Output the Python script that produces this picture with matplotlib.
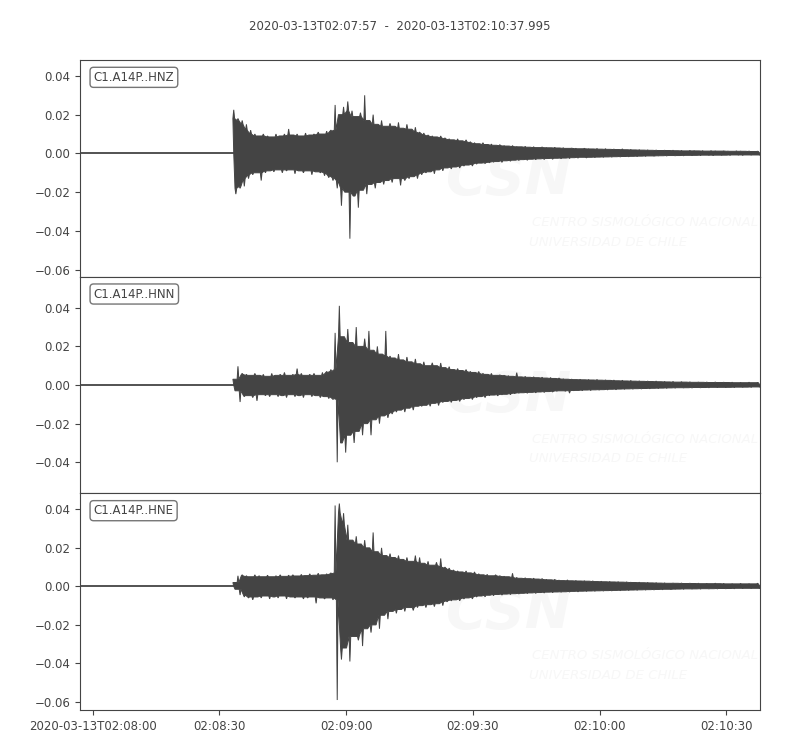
import numpy as np
import matplotlib
matplotlib.use("Agg")
from matplotlib import pyplot as plt

# trace start / end and P onset (seconds after start)
start = np.datetime64("2020-03-13T02:07:57.000")
end = np.datetime64("2020-03-13T02:10:37.995")
onset = 36.4

channels = ["C1.A14P..HNZ", "C1.A14P..HNN", "C1.A14P..HNE"]

# per-second max / min of each trace after the onset (x 1e-3)
hnz_up = [22.5, 18, 17, 15, 12, 10, 9, 10, 9, 8.5,
          10, 9, 10, 12.6, 9.5, 10, 9, 10.5, 9.5, 10,
          11, 10, 11.5, 12, 25, 20, 24, 26.8, 22, 19,
          21, 30, 17, 20, 15, 17, 14, 15.5, 14, 16,
          13, 15, 12.5, 13.5, 11, 10.5, 9.5, 9, 8.5, 9,
          8, 7.5, 7, 7.5, 6.5, 7, 6, 5.5, 5, 5.5,
          4.6, 4.8, 4.2, 4.5, 4, 3.8, 4, 3.5, 3.4, 3.6,
          3.2, 3.4, 3, 3.3, 3, 2.9, 3.1, 2.8, 2.9, 2.6,
          2.7, 2.6, 2.4, 2.6, 2.4, 2.3, 2.5, 2.2, 2.4, 2.1,
          2.2, 2, 2.3, 1.9, 2, 1.8, 1.9, 1.7, 1.8, 1.6,
          1.7, 1.5, 1.6, 1.5, 1.6, 1.4, 1.5, 1.3, 1.5, 1.4,
          1.3, 1.4, 1.2, 1.4, 1.3, 1.2, 1.3, 1.2, 1.1, 1.3,
          1.2, 1.1, 1.2, 1.0, 1.1]
hnz_dn = [-21, -18, -17, -13, -11, -10, -14, -10, -9, -9.5,
          -8.5, -10, -9, -8.5, -10.5, -9, -10, -9, -11, -9.5,
          -10, -11.5, -12.5, -14, -18, -27, -20, -44, -22, -28,
          -19, -21, -16, -18, -15, -16, -14, -15, -13, -16.5,
          -14, -13, -12, -13, -11, -10, -9.5, -10.5, -8.5, -9,
          -7.5, -8, -7, -7.5, -6.5, -6, -6.5, -5.5, -5, -5.2,
          -4.8, -4.5, -4.2, -4.6, -3.8, -4, -3.5, -3.6, -3.2, -3.5,
          -3, -3.2, -2.8, -3.1, -2.6, -3, -2.5, -2.7, -2.4, -2.6,
          -2.2, -2.4, -2, -2.3, -2, -2.1, -1.9, -2, -1.8, -1.9,
          -1.7, -1.8, -1.6, -1.7, -1.5, -1.6, -1.4, -1.5, -1.3, -1.4,
          -1.3, -1.2, -1.3, -1.1, -1.2, -1.1, -1.2, -1, -1.1, -1,
          -1.1, -0.9, -1, -1.1, -0.9, -1, -0.9, -1, -0.8, -0.9,
          -1, -0.8, -0.9, -0.8, -0.9]

hnn_up = [3, 9.7, 6, 5.5, 5, 6, 5, 5.5, 4.5, 6,
          5, 5.5, 6.5, 5, 5.5, 8.5, 6, 5, 5.5, 6,
          5, 6.5, 7, 8, 27, 41, 25, 29, 22, 30,
          20, 24, 28, 18, 20, 16, 28, 15, 14, 16,
          13, 14.5, 12, 13.5, 11, 12, 10, 11.5, 10, 11.4,
          9, 9.5, 8, 8.5, 7.5, 8, 7, 6.5, 7, 6,
          5.5, 6, 5, 5.2, 5, 4.8, 4.5, 6.4, 4.2, 4.4,
          4, 4.2, 3.8, 4, 3.6, 3.8, 3.4, 3.6, 3.2, 3,
          3, 2.8, 2.9, 2.7, 2.8, 2.6, 2.8, 2.5, 2.6, 2.4,
          2.5, 2.2, 2.4, 2.1, 2.3, 2, 2.1, 1.9, 2, 1.8,
          2, 1.7, 1.8, 1.6, 1.8, 1.5, 1.7, 1.5, 1.6, 1.4,
          1.5, 1.4, 1.5, 1.3, 1.5, 1.3, 1.4, 1.3, 1.4, 1.2,
          1.3, 1.2, 1.4, 1.2, 1.3]
hnn_dn = [-3, -8.8, -6, -5.5, -6.5, -8.2, -5, -5.5, -6, -5,
          -6, -5.5, -6.5, -5, -6, -5.5, -6.5, -5, -6, -5.5,
          -6.5, -6, -7, -7.5, -40, -30, -35, -26, -30, -24,
          -26, -20, -26, -18, -20, -16, -17, -15, -14, -13,
          -14, -12, -13, -11, -11, -10.5, -11, -9.5, -10.6, -9,
          -8.5, -9, -8, -8.5, -7.5, -7, -7.5, -6.5, -6, -6.5,
          -5.5, -5.2, -5.6, -5, -4.8, -5, -4.4, -4.2, -4, -4.2,
          -3.8, -4, -3.6, -3.8, -3.4, -3.6, -3.2, -3, -3.2, -4.2,
          -2.9, -2.8, -2.9, -2.6, -2.8, -2.5, -2.6, -2.4, -2.5, -2.2,
          -2.4, -2.1, -2.2, -2, -2.1, -1.9, -2, -1.8, -1.9, -1.7,
          -1.8, -1.6, -1.7, -1.5, -1.6, -1.4, -1.5, -1.4, -1.5, -1.3,
          -1.4, -1.3, -1.4, -1.2, -1.3, -1.2, -1.3, -1.2, -1.3, -1.1,
          -1.2, -1.1, -1.2, -1, -1.1]

hne_up = [2, 5.5, 6, 5.5, 5, 6, 5.5, 5, 5.8, 5,
          5.5, 6, 5.2, 5.8, 6, 5.4, 6.2, 5.6, 6.5, 5.8,
          6.8, 6, 6.5, 7, 42, 43, 38, 32, 24, 26,
          22, 24, 20, 28, 18, 20, 16, 17, 15, 16,
          14, 15, 13, 16, 15, 12, 13, 11, 12.5, 14.5,
          10, 9.5, 8.5, 8, 7.5, 8, 7, 7.5, 6.5, 6,
          6.2, 5.5, 6, 5.5, 5.2, 5, 6.8, 4.6, 4.2, 4.4,
          4, 4.2, 3.8, 4, 3.6, 3.4, 3.6, 3.2, 3, 3.3,
          2.9, 3, 2.8, 2.9, 2.7, 2.8, 2.5, 2.6, 2.4, 2.5,
          2.3, 2.4, 2.2, 2.3, 2.1, 2, 2.1, 1.9, 2, 1.8,
          1.9, 1.7, 1.8, 1.6, 1.7, 1.6, 1.7, 1.5, 1.6, 1.5,
          1.6, 1.4, 1.5, 1.4, 1.6, 1.4, 1.5, 1.3, 1.4, 1.3,
          1.5, 1.3, 1.4, 1.3, 1.6]
hne_dn = [-1.5, -4.5, -5.5, -6, -7, -5.5, -6, -5, -6.5, -5.5,
          -6, -5, -6.5, -5.5, -6, -5.5, -6.5, -6, -5.5, -8.8,
          -6, -6.5, -6, -7, -59, -38, -32, -39, -26, -28,
          -31, -22, -24, -20, -22, -15, -17, -13, -14, -12,
          -13, -11, -12.5, -11, -10, -11, -9.5, -10.5, -9, -10,
          -8, -7.5, -7, -7.5, -6.5, -6, -6.5, -5.5, -5, -5.4,
          -4.6, -4.8, -4.2, -4.5, -4, -4.2, -3.8, -3.9, -3.6, -3.7,
          -3.4, -3.6, -3.2, -3.4, -3, -3.2, -2.9, -3, -2.8, -2.9,
          -2.6, -2.8, -2.5, -2.6, -2.4, -2.5, -2.3, -2.4, -2.2, -2.3,
          -2.1, -2.2, -2, -2.1, -1.9, -2, -1.8, -1.9, -1.7, -1.8,
          -1.6, -1.7, -1.5, -1.6, -1.5, -1.4, -1.5, -1.3, -1.4, -1.3,
          -1.4, -1.2, -1.3, -1.2, -1.3, -1.1, -1.2, -1.1, -1.2, -1,
          -1.1, -1, -1.1, -1, -1.1]

ylims = [(-0.0636, 0.0482), (-0.0561, 0.0561), (-0.0642, 0.0483)]

tick_labels = ["2020-03-13T02:08:00", "02:08:30", "02:09:00",
               "02:09:30", "02:10:00", "02:10:30"]
tick_times = [np.datetime64("2020-03-13T02:08:00") + np.timedelta64(30 * i, "s")
              for i in range(len(tick_labels))]

traces = [(hnz_up, hnz_dn), (hnn_up, hnn_dn), (hne_up, hne_dn)]
color = "#444444"
wm = "#f7f7f7"


def to_time(sec):
    return start + (np.asarray(sec) * 1000).astype("timedelta64[ms]")


def edge(t, peak, pick):
    # thin spike at each second standing on the lower of its neighbours
    pad = np.concatenate([[peak[0]], peak, [peak[-1]]])
    base = pick(np.vstack([pad[:-2], pad[1:-1], pad[2:]]), axis=0)
    xs = np.column_stack([t - 0.2, t, t + 0.2]).ravel()
    ys = np.column_stack([base, peak, base]).ravel()
    return xs, ys


fig, axes = plt.subplots(3, 1, figsize=(8, 7.5), dpi=100, sharex=True,
                         gridspec_kw={"hspace": 0})
fig.subplots_adjust(left=0.1, right=0.95, top=0.92, bottom=0.0533)

for ax, name, (up, dn), yl in zip(axes, channels, traces, ylims):
    up = np.array(up) * 1e-3
    dn = np.array(dn) * 1e-3
    tk = onset + np.arange(len(up))

    # quiet part before the onset
    ax.plot(to_time([0.0, onset]), [0.0, 0.0], color=color, lw=1.3, zorder=3)

    ux, uy = edge(tk, up, np.min)
    lx, ly = edge(tk + 0.5, dn, np.max)
    poly_x = np.concatenate([[onset], ux, [160.995], lx[::-1]])
    poly_y = np.concatenate([[0.0], uy, [0.0], ly[::-1]])
    ax.fill(to_time(poly_x), poly_y, facecolor=color, edgecolor=color,
            lw=0.7, zorder=3)

    # faint CSN watermark
    ax.text(0.63, 0.45, "CSN", transform=ax.transAxes, fontsize=40,
            fontweight="bold", style="italic", color=wm,
            ha="center", va="center", zorder=1)
    ax.text(0.664, 0.25, "CENTRO SISMOLÓGICO NACIONAL", transform=ax.transAxes,
            fontsize=9.5, style="italic", color=wm, ha="left",
            va="center", zorder=1)
    ax.text(0.66, 0.16, "UNIVERSIDAD DE CHILE", transform=ax.transAxes,
            fontsize=9.5, style="italic", color=wm, ha="left",
            va="center", zorder=1)

    ax.text(0.02, 0.95, name, transform=ax.transAxes, fontsize=8.5,
            color=color, ha="left", va="top", zorder=5,
            bbox=dict(boxstyle="round", fc="w", ec="#666666", alpha=0.9))

    ax.set_ylim(*yl)
    ax.set_yticks([v for v in np.arange(-0.06, 0.05, 0.02) if yl[0] <= v <= yl[1]])
    ax.tick_params(labelsize=8.5, colors=color)
    for s in ax.spines.values():
        s.set_color(color)

axes[-1].set_xlim(start, end)
axes[-1].set_xticks(tick_times)
axes[-1].set_xticklabels(tick_labels)

fig.suptitle("2020-03-13T02:07:57  -  2020-03-13T02:10:37.995",
             fontsize=8.5, color=color, y=0.973)

plt.savefig("out.png")
